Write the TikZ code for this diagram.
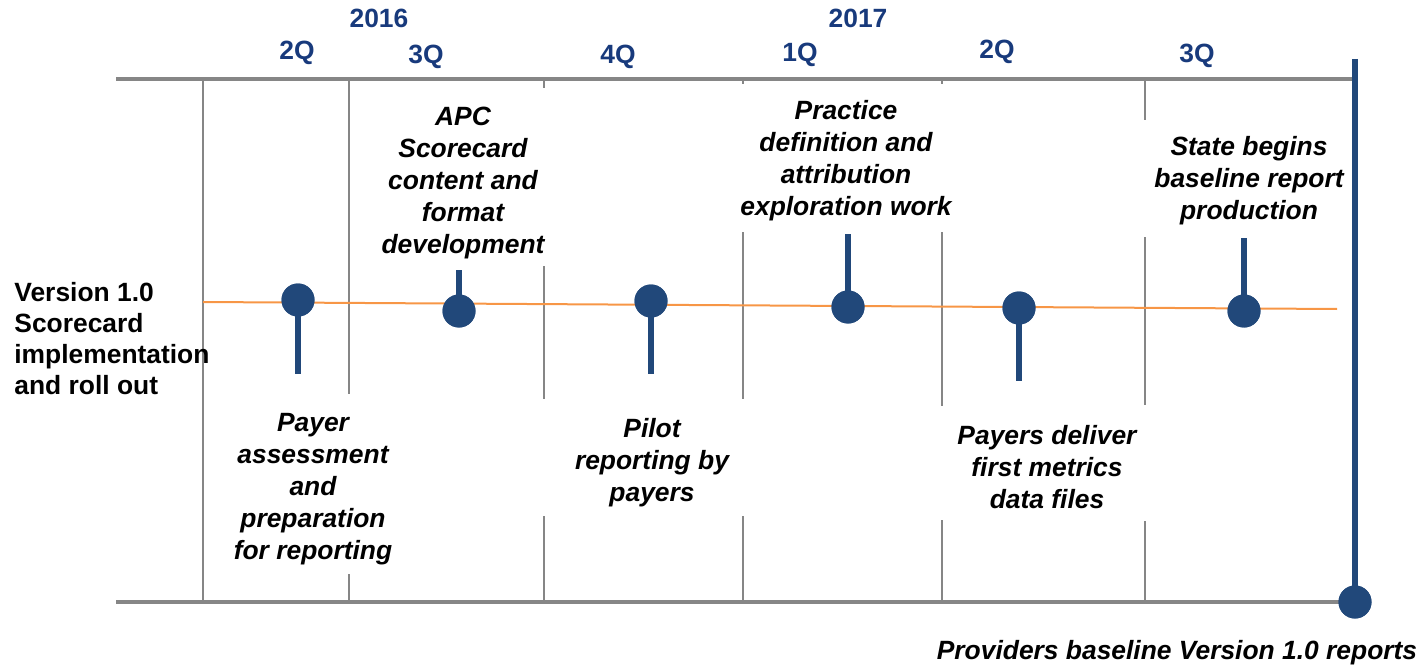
\documentclass[tikz,border=0pt]{standalone}
\usepackage{fontspec}
\setmainfont{Liberation Sans}
\definecolor{gridgray}{RGB}{134,134,134}
\definecolor{tlblue}{RGB}{33,72,122}
\definecolor{yrblue}{RGB}{24,58,124}
\definecolor{tlorange}{RGB}{247,150,70}
\begin{document}
\begin{tikzpicture}[x=0.5pt,y=-0.5pt,
  gridline/.style={draw=gridgray,line width=1pt},
  frameline/.style={draw=gridgray,line width=2pt},
  stem/.style={draw=tlblue,line width=3pt},
  dot/.style={circle,fill=tlblue,minimum size=16.5pt,inner sep=0pt},
  lbl/.style={font=\fontsize{13.2}{16}\selectfont\bfseries\itshape,align=center,inner sep=0pt},
  qlbl/.style={font=\fontsize{13.2}{16}\selectfont\bfseries,text=yrblue,inner sep=0pt}]
\useasboundingbox (0,0) rectangle (1422,668);
% frame lines
\draw[frameline] (116,79) -- (1355,79);
\draw[frameline] (116,602) -- (1355,602);
% vertical grid lines
\draw[gridline] (203,79) -- (203,602);
\draw[gridline] (349,79) -- (349,394);
\draw[gridline] (349,574) -- (349,602);
\draw[gridline] (544,79) -- (544,88);
\draw[gridline] (544,266) -- (544,399);
\draw[gridline] (544,516) -- (544,602);
\draw[gridline] (743,79) -- (743,84);
\draw[gridline] (743,232) -- (743,399);
\draw[gridline] (743,516) -- (743,602);
\draw[gridline] (942,79) -- (942,84);
\draw[gridline] (942,232) -- (942,406);
\draw[gridline] (942,520) -- (942,602);
\draw[gridline] (1145,79) -- (1145,120);
\draw[gridline] (1145,237) -- (1145,405);
\draw[gridline] (1145,521) -- (1145,602);
% orange timeline
\coordinate (ostart) at (203,302);
\coordinate (oend) at (1337,309);
\draw[draw=tlorange,line width=1pt] (ostart) -- (oend);
% milestone dots and stems
\coordinate (s1) at (298,374);
\coordinate (s2) at (459,270);
\coordinate (s3) at (651,374);
\coordinate (s4) at (848,234);
\coordinate (s5) at (1019,381);
\coordinate (s6) at (1244,238);
\node[dot] (d1) at (298,300) {};
\node[dot] (d2) at (459,311) {};
\node[dot] (d3) at (651,301) {};
\node[dot] (d4) at (848,307) {};
\node[dot] (d5) at (1019,308) {};
\node[dot] (d6) at (1244,311) {};
\draw[stem] (d1.center) -- (s1);
\draw[stem] (d2.center) -- (s2);
\draw[stem] (d3.center) -- (s3);
\draw[stem] (d4.center) -- (s4);
\draw[stem] (d5.center) -- (s5);
\draw[stem] (d6.center) -- (s6);
\node[dot] at (298,300) {};
\node[dot] at (459,311) {};
\node[dot] at (651,301) {};
\node[dot] at (848,307) {};
\node[dot] at (1019,308) {};
\node[dot] at (1244,311) {};
% final bar
\coordinate (bartop) at (1355,59);
\node[dot] (dend) at (1355,602) {};
\draw[stem,line width=3.3pt] (bartop) -- (dend.center);
\node[dot] at (1355,602) {};
% year / quarter labels
\node[qlbl] (y16) at (379,18) {2016};
\node[qlbl] (y17) at (858,18) {2017};
\node[qlbl] (q1) at (297,53) {2Q};
\node[qlbl] (q2) at (426,57) {3Q};
\node[qlbl] (q3) at (618,57) {4Q};
\node[qlbl] (q4) at (800,55) {1Q};
\node[qlbl] (q5) at (997,52) {2Q};
\node[qlbl] (q6) at (1197,56) {3Q};
% left label
\node[font=\fontsize{13.2}{15.5}\selectfont\bfseries,align=left,inner sep=0pt,anchor=west] (vlabel) at (14,339)
  {Version 1.0\\Scorecard\\implementation\\and roll out};
% milestone texts
\node[lbl] (t2) at (463,183) {APC\\Scorecard\\content and\\format\\development};
\node[lbl] (t4) at (846,161) {Practice\\definition and\\attribution\\exploration work};
\node[lbl] (t6) at (1249,181) {State begins\\baseline report\\production};
\node[lbl] (t1) at (313,489) {Payer\\assessment\\and\\preparation\\for reporting};
\node[lbl] (t3) at (652,463) {Pilot\\reporting by\\payers};
\node[lbl] (t5) at (1047,467) {Payers deliver\\first metrics\\data files};
\node[lbl] (tend) at (1177,653) {Providers baseline Version 1.0 reports};
\end{tikzpicture}
\end{document}
